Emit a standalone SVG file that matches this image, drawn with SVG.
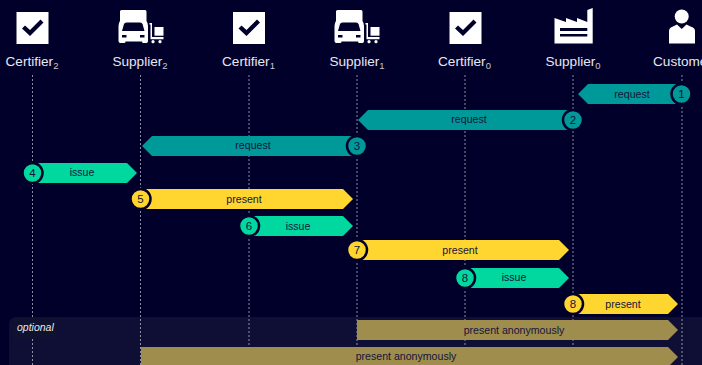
<svg xmlns="http://www.w3.org/2000/svg" width="702" height="365" viewBox="0 0 702 365">
<style>
.lbl{font:13.6px "Liberation Sans",Arial,sans-serif;fill:#e8e8f0;text-anchor:middle}
.sub{font-size:9.500px;fill:#c8c8d4}
.t{font:10.600px "Liberation Sans",Arial,sans-serif;fill:#14143a;text-anchor:middle}
.n{font:11.500px "Liberation Sans",Arial,sans-serif;fill:#14143a;text-anchor:middle}
.life{stroke:#8a8aa0;stroke-width:1;stroke-dasharray:2 2;fill:none}
.teal{fill:#009999}.green{fill:#00d8a0}.yellow{fill:#ffd530}.gold{fill:#9f8d4d}
.ring{stroke:#00002a;stroke-width:2.500}
.ic{fill:#fff}.dk{fill:#00002a}
</style>
<defs>
<g id="check"><rect class="ic" x="0" y="0" width="32" height="32"/><path d="M5.500 16.500 L8.500 13.500 L13.500 18 L24 7.500 L27 10.500 L13.500 24 Z" class="dk"/></g>
<g id="truck" class="ic">
<path d="M3 0 H26.500 Q28 0 28 1.500 V11 Q29.500 13 29.500 16 V31 Q29.500 33 28 33 H25 Q23.500 33 23.500 31.500 H7 Q7 33 5.500 33 H2 Q0 33 0 31 V16 Q0 13 1.500 11 V1.500 Q1.500 0 3 0 Z"/>
<path class="dk" d="M3.500 21 L5.500 14 Q6 12.500 8 12.500 H21.500 Q23.500 12.500 24 14 L26 21 Z"/>
<rect class="dk" x="3.500" y="25" width="4.500" height="2.500"/>
<rect class="dk" x="21.500" y="25" width="4.500" height="2.500"/>
<path d="M31 13 H33.500 V27 H45 V29.300 H32 V14.500 H31 Z"/>
<rect x="36" y="17" width="9" height="8.700"/>
<circle cx="34.500" cy="31.700" r="1.600"/><circle cx="41.500" cy="31.700" r="1.600"/>
</g>
</defs>
<rect width="702" height="365" fill="#00002a"/>
<g id="lifelines">
<path class="life" d="M32.500 75V365M140.500 75V365M249 75V365M357 75V365M465 75V365M573 75V365M682 75V365"/>
</g>
<rect id="optional-panel" x="9" y="317" width="700" height="60" rx="7" fill="#ffffff" fill-opacity=".06"/>
<rect x="14" y="318" width="42" height="20" fill="#10102f"/>
<text x="17" y="331" font-family="Liberation Sans, Arial, sans-serif" font-size="10.500" font-style="italic" fill="#e8e8f0">optional</text>

<g id="Certifier2"><use href="#check" x="16.500" y="12"/><text class="lbl" x="32" y="66">Certifier<tspan class="sub" dy="3">2</tspan></text></g>
<g id="Supplier2"><use href="#truck" x="118.500" y="10"/><text class="lbl" x="140" y="66">Supplier<tspan class="sub" dy="3">2</tspan></text></g>
<g id="Certifier1"><use href="#check" x="233" y="12"/><text class="lbl" x="248.500" y="66">Certifier<tspan class="sub" dy="3">1</tspan></text></g>
<g id="Supplier1"><use href="#truck" x="334.500" y="10"/><text class="lbl" x="357" y="66">Supplier<tspan class="sub" dy="3">1</tspan></text></g>
<g id="Certifier0"><use href="#check" x="449.500" y="12"/><text class="lbl" x="464.500" y="66">Certifier<tspan class="sub" dy="3">0</tspan></text></g>
<g id="Supplier0"><path class="ic" d="M554.500 18 L566 22 V18 L577 22 V18 L587.300 22 V10 L592.700 8 V43.500 H554.500 Z"/><rect class="dk" x="560" y="28" width="27.300" height="3"/><rect class="dk" x="560" y="34" width="27.300" height="2.500"/><text class="lbl" x="573" y="66">Supplier<tspan class="sub" dy="3">0</tspan></text></g>
<g id="Customer"><circle class="ic" cx="681.700" cy="16.500" r="7"/><path class="ic" d="M669 43.500 V31 Q669 27.500 673 26.500 L677 24.500 L681.700 29 L686.500 24.500 L690.500 26.500 Q695 27.500 695 31 V43.500 Z"/><text class="lbl" x="653" y="66" style="text-anchor:start">Customer</text></g>

<g id="connectors">
<g><path class="teal" d="M578 94 L588 84 H682 V104 H588 Z"/><text class="t" x="632" y="98">request</text><circle class="teal ring" cx="681.500" cy="94" r="10"/><text class="n" x="681.500" y="98">1</text></g>
<g><path class="teal" d="M358 120 L368 110 H573 V130 H368 Z"/><text class="t" x="469" y="123">request</text><circle class="teal ring" cx="573" cy="120" r="10"/><text class="n" x="573" y="124">2</text></g>
<g><path class="teal" d="M142 146 L152 136 H357 V156 H152 Z"/><text class="t" x="253" y="149">request</text><circle class="teal ring" cx="357" cy="146" r="10"/><text class="n" x="357" y="150">3</text></g>
<g><path class="green" d="M32 163 H127 L137 173 L127 183 H32 Z"/><text class="t" x="82" y="176">issue</text><circle class="green ring" cx="32.500" cy="173" r="10"/><text class="n" x="32.500" y="177">4</text></g>
<g><path class="yellow" d="M140 189 H343 L353 199 L343 209 H140 Z"/><text class="t" x="244" y="203">present</text><circle class="yellow ring" cx="140.500" cy="199" r="10"/><text class="n" x="140.500" y="203">5</text></g>
<g><path class="green" d="M249 216 H343 L353 226 L343 236 H249 Z"/><text class="t" x="298" y="230">issue</text><circle class="green ring" cx="249" cy="226" r="10"/><text class="n" x="249" y="230">6</text></g>
<g><path class="yellow" d="M357 240 H559 L569 250 L559 260 H357 Z"/><text class="t" x="460" y="254">present</text><circle class="yellow ring" cx="357" cy="250" r="10"/><text class="n" x="357" y="254">7</text></g>
<g><path class="green" d="M465 268 H559 L569 278 L559 288 H465 Z"/><text class="t" x="514" y="281">issue</text><circle class="green ring" cx="465" cy="278" r="10"/><text class="n" x="465" y="282">8</text></g>
<g><path class="yellow" d="M573 294 H668 L678 304 L668 314 H573 Z"/><text class="t" x="623" y="308">present</text><circle class="yellow ring" cx="573" cy="304" r="10"/><text class="n" x="573" y="308">8</text></g>
<g><path class="gold" d="M357 320 H668 L678 330 L668 340 H357 Z"/><text class="t" x="514" y="334">present anonymously</text></g>
<g><path class="gold" d="M141 347 H668 L678 357 L668 367 H141 Z"/><text class="t" x="406" y="360">present anonymously</text></g>
</g>
</svg>
